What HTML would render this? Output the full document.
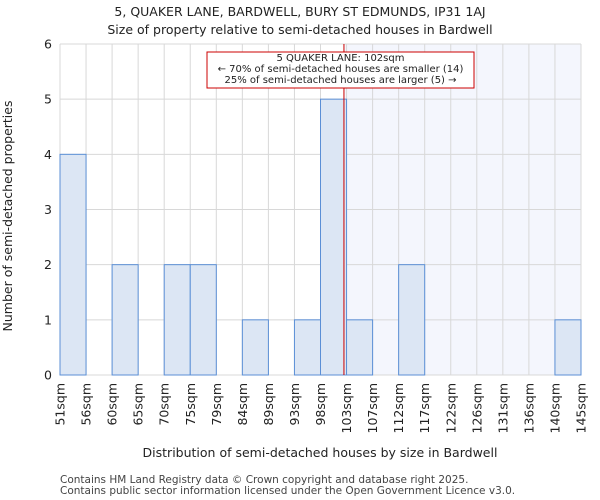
<!DOCTYPE html>
<html><head><meta charset="utf-8"><style>
body{margin:0;background:#fff;}
svg{display:block;font-family:"DejaVu Sans","Liberation Sans",sans-serif;}
</style></head><body>
<svg id="chart" width="600" height="500" viewBox="0 0 600 500">
<text x="300" y="16" text-anchor="middle" font-size="12.5" fill="#222">5, QUAKER LANE, BARDWELL, BURY ST EDMUNDS, IP31 1AJ</text>
<text x="300" y="34" text-anchor="middle" font-size="12.5" fill="#222">Size of property relative to semi-detached houses in Bardwell</text>
<g id="plot"></g>
<text x="320" y="457" text-anchor="middle" font-size="12.5" fill="#222">Distribution of semi-detached houses by size in Bardwell</text>
<text transform="translate(12,216) rotate(-90)" text-anchor="middle" font-size="12.5" fill="#222">Number of semi-detached properties</text>
<text x="60" y="483" font-size="10.5" fill="#444">Contains HM Land Registry data © Crown copyright and database right 2025.</text>
<text x="60" y="494" font-size="10.5" fill="#444">Contains public sector information licensed under the Open Government Licence v3.0.</text>
</svg>
<script>
const binLabels=["51sqm","56sqm","60sqm","65sqm","70sqm","75sqm","79sqm","84sqm","89sqm","93sqm","98sqm","103sqm","107sqm","112sqm","117sqm","122sqm","126sqm","131sqm","136sqm","140sqm","145sqm"];
const counts=[4,0,2,0,2,2,0,1,0,1,5,1,0,2,0,0,0,0,0,1];
const yTicks=[0,1,2,3,4,5,6];
const propertyBin=10.9;
const NS="http://www.w3.org/2000/svg";
const L=60,R=581,T=44,B=375,yMax=6;
const nb=counts.length;
const xs=i=>L+(R-L)*i/nb;
const ys=v=>B-(B-T)*v/yMax;
const g=document.getElementById('plot');
function el(t,a){const e=document.createElementNS(NS,t);for(const k in a)e.setAttribute(k,a[k]);g.appendChild(e);return e;}
const px=xs(propertyBin);
let e=el('rect',{x:px,y:T,width:R-px,height:B-T,fill:'#f4f6fd'});


for(let i=0;i<=nb;i++){e=el('line',{x1:xs(i),x2:xs(i),y1:T,y2:B,stroke:'#d8d8d8','stroke-width':1});

}
yTicks.forEach(v=>{e=el('line',{x1:L,x2:R,y1:ys(v),y2:ys(v),stroke:'#d8d8d8','stroke-width':1});


const t=el('text',{x:L-8,y:ys(v)+4.5,'text-anchor':'end','font-size':12.5,fill:'#222'});t.textContent=v;

});
counts.forEach((c,i)=>{if(!c)return;e=el('rect',{x:xs(i),y:ys(c),width:xs(i+1)-xs(i),height:B-ys(c),fill:'#dce6f4',stroke:'#5b8fd6','stroke-width':1});

});
binLabels.forEach((s,i)=>{const t=el('text',{transform:`translate(${xs(i)+4.5},${B+8}) rotate(-90)`,'text-anchor':'end','font-size':12.5,fill:'#222'});t.textContent=s;

});
e=el('line',{x1:px,x2:px,y1:T,y2:B,stroke:'#cc0000','stroke-width':1});


e=el('rect',{x:207,y:52,width:267,height:36,fill:'#fff',stroke:'#cc0000','stroke-width':1});


["5 QUAKER LANE: 102sqm","← 70% of semi-detached houses are smaller (14)","25% of semi-detached houses are larger (5) →"].forEach((s,i)=>{const t=el('text',{x:340.5,y:61+i*11,'text-anchor':'middle','font-size':10,fill:'#222'});t.textContent=s;

});
</script>
</body></html>
